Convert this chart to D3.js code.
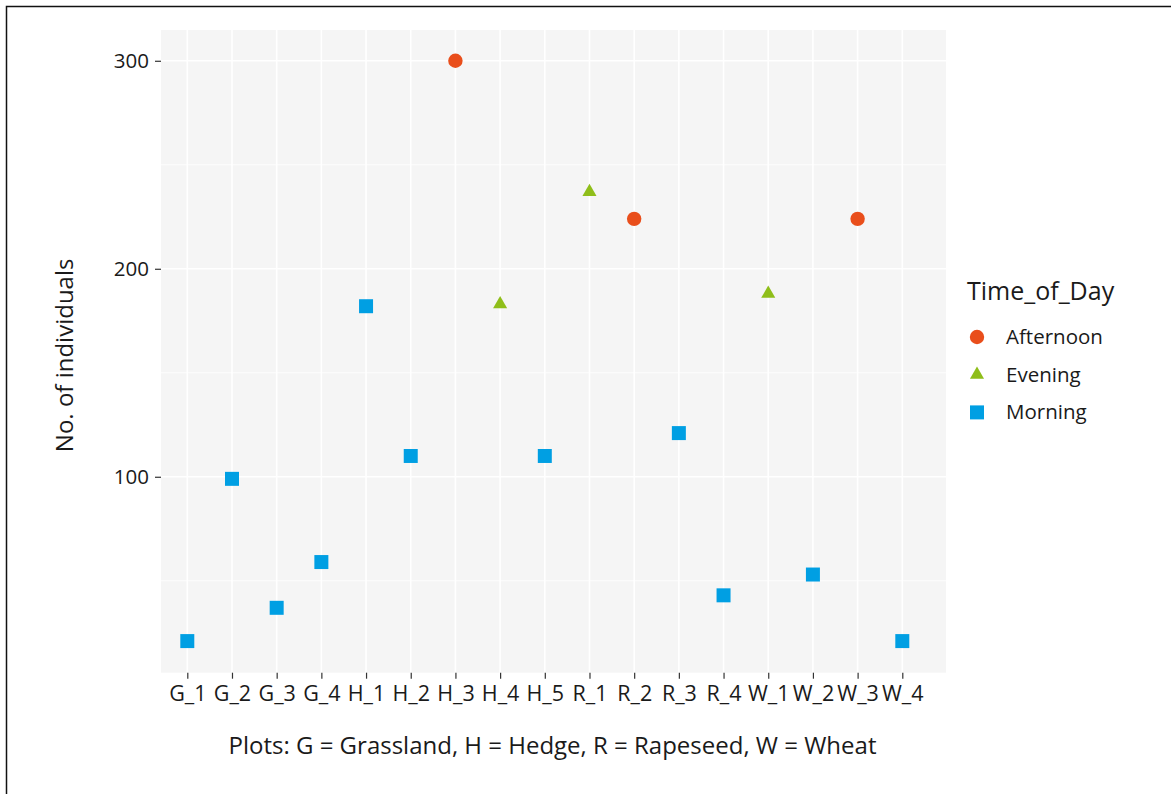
<!DOCTYPE html>
<html><head><meta charset="utf-8">
<script src="https://cdn.jsdelivr.net/npm/d3@7"></script>
<style>body{margin:0;background:#fff}text{font-family:"Open Sans",sans-serif;fill:#1a1a1a}</style>
</head><body>
<svg id="c" width="1171" height="794"></svg>
<script>
const categories = ["G_1","G_2","G_3","G_4","H_1","H_2","H_3","H_4","H_5","R_1","R_2","R_3","R_4","W_1","W_2","W_3","W_4"];
const values = [21, 99, 37, 59, 182, 110, 300, 183, 110, 237, 224, 121, 43, 188, 53, 224, 21];
const timeOfDay = ["Morning","Morning","Morning","Morning","Morning","Morning","Afternoon","Evening","Morning","Evening","Afternoon","Morning","Morning","Evening","Morning","Afternoon","Morning"];
const groups = ["Afternoon","Evening","Morning"];
const groupColors = ["#E94E1B","#8FBE1A","#009FE3"];
const yTicks = [100, 200, 300];
const yMinor = [50, 150, 250];

const svg = d3.select("#c");
svg.append("rect").attr("x",6.5).attr("y",6.5).attr("width",1300).attr("height",1000)
  .attr("fill","none").attr("stroke","#111").attr("stroke-width",1.5);

const P = {l:161, r:946, t:30, b:672.7};
const x = d3.scalePoint().domain(categories).range([187.3, 902.3]);
const y = d3.scaleLinear().domain([5.8, 314.8]).range([P.b, P.t]);
const color = d3.scaleOrdinal().domain(groups).range(groupColors);
const shape = d3.scaleOrdinal().domain(groups).range([d3.symbolCircle, d3.symbolTriangle, d3.symbolSquare]);
const sizes = {Afternoon: Math.PI*7.2*7.2, Evening: 86, Morning: 196};

svg.append("rect").attr("x",P.l).attr("y",P.t).attr("width",P.r-P.l).attr("height",P.b-P.t).attr("fill","#F5F5F5");
const g = svg.append("g");
g.selectAll(".ymin").data(yMinor).join("line").attr("x1",P.l).attr("x2",P.r)
  .attr("y1",d=>y(d)).attr("y2",d=>y(d)).attr("stroke","#fff").attr("stroke-width",0.8);
g.selectAll(".ymaj").data(yTicks).join("line").attr("x1",P.l).attr("x2",P.r)
  .attr("y1",d=>y(d)).attr("y2",d=>y(d)).attr("stroke","#fff").attr("stroke-width",1.6);
g.selectAll(".xmaj").data(categories).join("line").attr("y1",P.t).attr("y2",P.b)
  .attr("x1",d=>x(d)).attr("x2",d=>x(d)).attr("stroke","#fff").attr("stroke-width",1.6);

// axes
const yAxis = d3.axisLeft(y).tickValues(yTicks).tickSize(6).tickPadding(6);
const ya = svg.append("g").attr("transform",`translate(${P.l},0)`).call(yAxis);
ya.select(".domain").remove();
ya.selectAll("line").attr("stroke","#333").attr("stroke-width",1.2);
ya.selectAll("text").attr("font-size",20.5).attr("font-family","Open Sans").attr("fill","#1a1a1a");

const xAxis = d3.axisBottom(x).tickSize(6).tickPadding(7);
const xa = svg.append("g").attr("transform",`translate(0,${P.b})`).call(xAxis);
xa.select(".domain").remove();
xa.selectAll("line").attr("stroke","#333").attr("stroke-width",1.2);
xa.selectAll("text").attr("font-size",21.5).attr("font-family","Open Sans").attr("fill","#1a1a1a");

// points
svg.append("g").selectAll("path").data(categories).join("path")
  .attr("transform",(d,i)=>`translate(${x(d)},${y(values[i])})`)
  .attr("d",(d,i)=>d3.symbol().type(shape(timeOfDay[i])).size(sizes[timeOfDay[i]])())
  .attr("fill",(d,i)=>color(timeOfDay[i]));

// titles
svg.append("text").attr("x",(P.l+P.r)/2 - 1).attr("y",754).attr("text-anchor","middle")
  .attr("font-size",24).text("Plots: G = Grassland, H = Hedge, R = Rapeseed, W = Wheat");
svg.append("text").attr("transform",`translate(73,${(P.t+P.b)/2 + 4}) rotate(-90)`).attr("text-anchor","middle")
  .attr("font-size",24).text("No. of individuals");

// legend
const lg = svg.append("g");
lg.append("text").attr("x",967).attr("y",300).attr("font-size",25).text("Time_of_Day");
groups.forEach((k,i)=>{
  const cy = 337 + i*37.7;
  lg.append("path").attr("transform",`translate(977,${cy})`)
    .attr("d",d3.symbol().type(shape(k)).size(sizes[k])()).attr("fill",color(k));
  lg.append("text").attr("x",1006).attr("y",cy+7).attr("font-size",20.5).text(k);
});
</script></body></html>
